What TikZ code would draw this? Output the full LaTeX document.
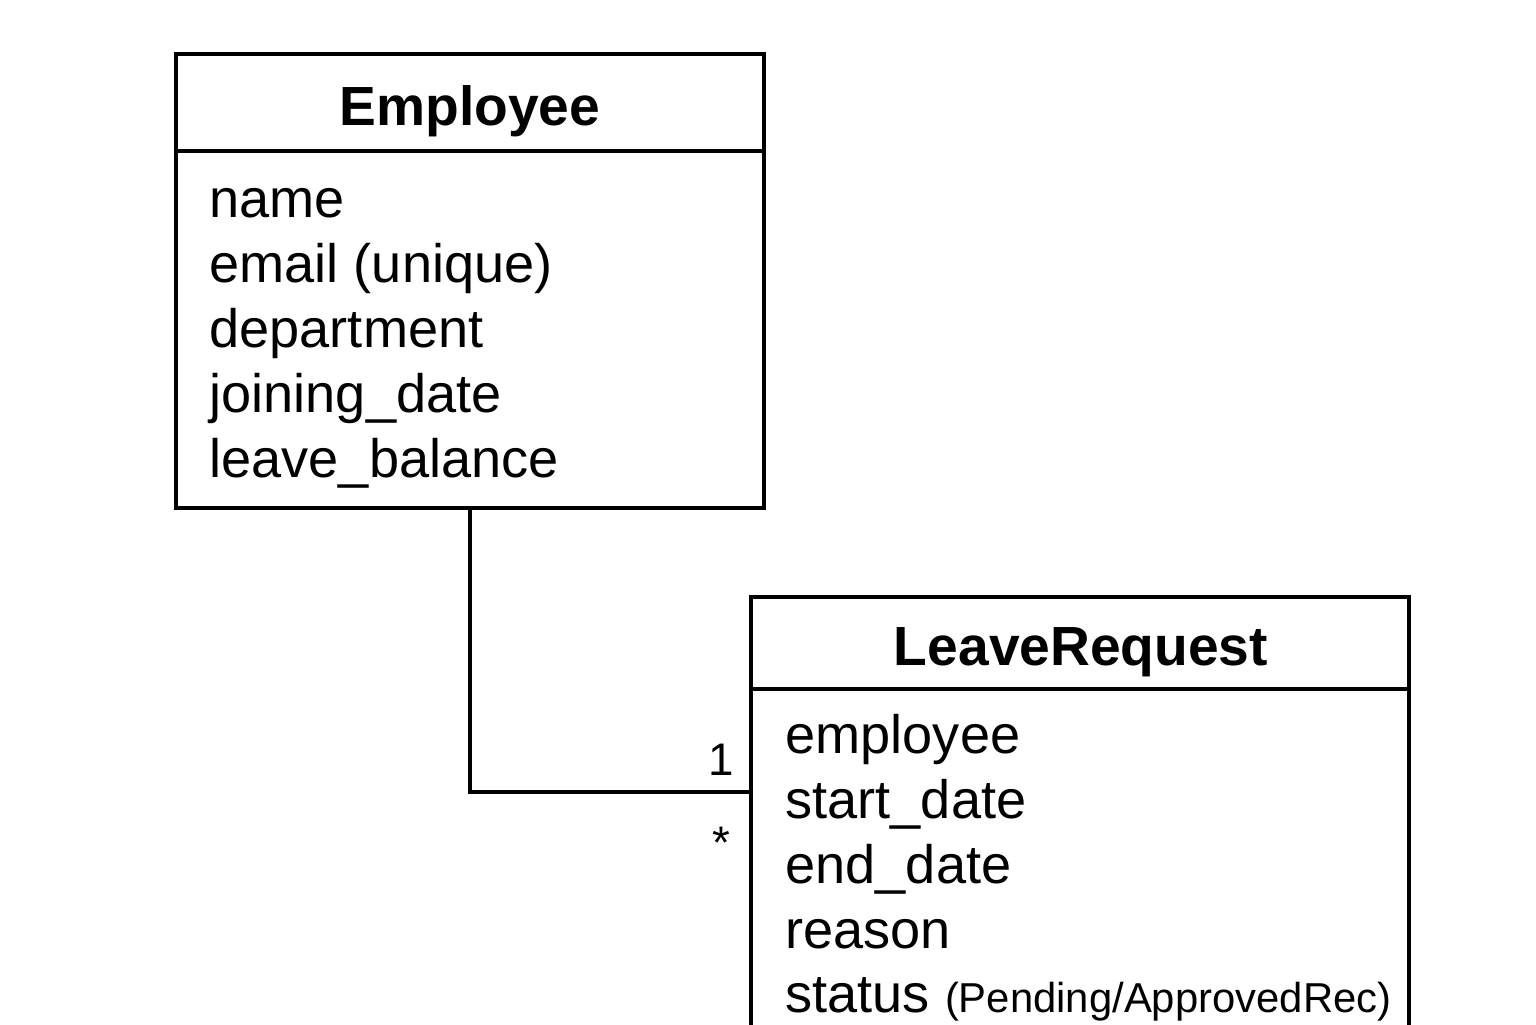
\documentclass[tikz,border=0pt]{standalone}
\usepackage{fontspec}
\setmainfont{Liberation Sans}
\usetikzlibrary{positioning}

\tikzset{
  classbox/.style={draw, black, line width=0.9pt, inner sep=0pt, outer sep=0pt, anchor=north west},
  classtitle/.style={anchor=base, inner sep=0pt, font=\fontsize{15.7}{18}\selectfont\bfseries},
  attr/.style={anchor=base west, inner sep=0pt, font=\fontsize{15.4}{18}\selectfont},
  mult/.style={anchor=base, inner sep=0pt, font=\fontsize{13}{15}\selectfont}
}

\begin{document}
\begin{tikzpicture}[line width=0.9pt]
\useasboundingbox (0,0) rectangle (15.36,-10.24);
% Employee
\node [classbox, minimum width=5.88cm, minimum height=0.97cm] (emp) at (1.76,-0.54) {};
\node [classbox, minimum width=5.88cm, minimum height=3.57cm] (empattr) at (emp.south west) {};
\node [classtitle] (emptitle) at (4.70,-1.25) {Employee};
\foreach \a [count=\i] in {name, email (unique), department, joining\_date, leave\_balance}
  \node [attr] (empa\i) at (2.08,-2.175-0.65*\i+0.65) {\a};
% LeaveRequest
\node [classbox, minimum width=6.58cm, minimum height=0.92cm] (lr) at (7.51,-5.97) {};
\node [classbox, minimum width=6.58cm, minimum height=4.00cm] (lrattr) at (lr.south west) {};
\node [classtitle] (lrtitle) at (10.81,-6.65) {LeaveRequest};
\foreach \a [count=\i] in {employee, start\_date, end\_date, reason}
  \node [attr] (lra\i) at (7.84,-7.53-0.65*\i+0.65) {\a};
\node [attr] (lra5) at (7.84,-10.12) {status {\fontsize{11.9}{14}\selectfont (Pending/ApprovedRec)}};
% association
\coordinate (assoc) at (lrattr.west |- 0,-7.92);
\draw (empattr.south) |- (assoc);
\node [mult] (one) at (7.21,-7.75) {1};
\node [mult] (many) at (7.21,-8.58) {*};
\end{tikzpicture}
\end{document}
